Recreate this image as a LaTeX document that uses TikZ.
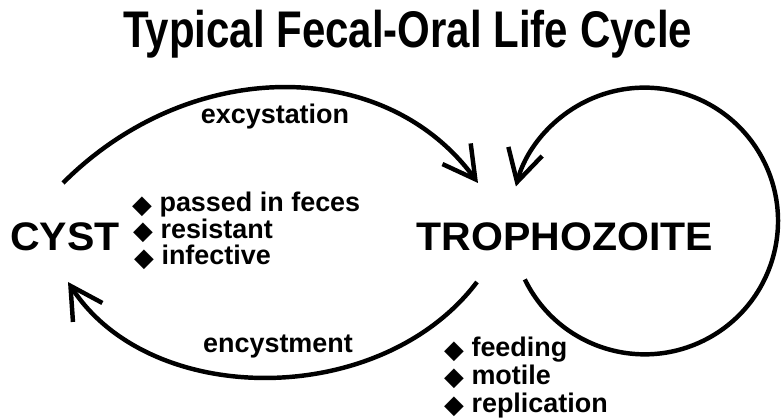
\documentclass[tikz,border=0pt]{standalone}
\usepackage{fontspec}
\setmainfont{Liberation Sans}
\newfontfamily\dingfont{DejaVu Sans}
\usetikzlibrary{arrows.meta,calc}

\newcommand{\itembullet}{\smash{\raisebox{-1pt}{\dingfont\fontsize{22pt}{22pt}\selectfont ◆}}}

\begin{document}
\begin{tikzpicture}[
  >={Straight Barb[length=9.5mm, width=10.5mm]},
  cyc/.style={line width=3.8pt, black},
  ttl/.style={font=\bfseries\fontsize{44}{48}\selectfont, anchor=base, inner sep=0pt},
  stage/.style={font=\bfseries\fontsize{34}{36}\selectfont, anchor=base, inner sep=0pt},
  lbl/.style={font=\bfseries\fontsize{23}{25}\selectfont, anchor=base, inner sep=0pt},
  itm/.style={lbl, anchor=base west}
]
\useasboundingbox (0,0) rectangle (23.43,12.57);

% ==================== TITLE ====================
\node[ttl] (title) at (12.23,11.14) {\scalebox{0.815}[1]{Typical Fecal-Oral Life Cycle}};

% ==================== STAGES ====================
\node[stage] (cyst) at (1.95,5.04) {\scalebox{1.03}[1]{CYST}};
\node[stage] (tropho) at (16.95,5.04) {\scalebox{1.03}[1]{TROPHOZOITE}};

% Cyst features
\node[itm] (passed) at (3.96,6.21) {\itembullet\ passed in feces};
\node[itm] (resist) at (3.99,5.42) {\itembullet\ resistant};
\node[itm] (infect) at (4.02,4.62) {\itembullet\ infective};

% Trophozoite features
\node[itm] (feed) at (13.32,1.86) {\itembullet\ feeding};
\node[itm] (motile) at (13.32,1.03) {\itembullet\ motile};
\node[itm] (repl) at (13.32,0.20) {\itembullet\ replication};

% ==================== CYCLE ====================
% Excystation (cyst -> trophozoite)
\coordinate (exc-a) at (1.89,7.08);
\coordinate (exc-b) at (14.34,7.08);
\draw[cyc, ->] (exc-a) .. controls (5.70,10.89) and (11.55,10.89) .. (exc-b);
\node[lbl] (exc) at (8.25,8.85) {excystation};

% Encystment (trophozoite -> cyst)
\coordinate (enc-a) at (14.31,4.11);
\coordinate (enc-b) at (2.04,4.11);
\draw[cyc, ->] (enc-a) .. controls (11.43,0.30) and (4.50,0.30) .. (enc-b);
\node[lbl] (enc) at (8.34,1.98) {encystment};

% Trophozoite loop (replication)
\coordinate (loop-c) at (19.34,5.94);
\draw[cyc, ->] ($(loop-c)+(206:4)$) arc[start angle=206, end angle=525, radius=4];

\end{tikzpicture}
\end{document}
